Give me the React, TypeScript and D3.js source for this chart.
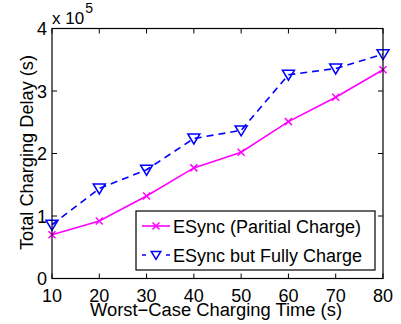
import React from "react";
import * as d3 from "d3";

const width = 401;
const height = 324;
const margin = { top: 28.5, right: 18, bottom: 45.5, left: 52 };

const chargingTime = [10, 20, 30, 40, 50, 60, 70, 80];
const partialCharge = [0.7, 0.92, 1.32, 1.77, 2.02, 2.51, 2.9, 3.34];
const fullCharge = [0.86, 1.44, 1.74, 2.24, 2.37, 3.26, 3.36, 3.59];
const xTicks = [10, 20, 30, 40, 50, 60, 70, 80];
const yTicks = [0, 1, 2, 3, 4];
const legendLabels = ["ESync (Paritial Charge)", "ESync but Fully Charge"];

const font = "'Liberation Sans', Arial, Helvetica, sans-serif";

export default function App() {
  const x = d3
    .scaleLinear()
    .domain([10, 80])
    .range([margin.left, width - margin.right]);
  const y = d3
    .scaleLinear()
    .domain([0, 4])
    .range([height - margin.bottom, margin.top]);

  const line = d3
    .line<number>()
    .x((_, i) => x(chargingTime[i]))
    .y((d) => y(d));

  const x0 = x.range()[0];
  const x1 = x.range()[1];
  const y0 = y.range()[0];
  const y1 = y.range()[1];
  const tick = 5;

  const cross = (cx: number, cy: number, key: string) => (
    <path
      key={key}
      d={`M${cx - 3.5},${cy - 3.5}L${cx + 3.5},${cy + 3.5}M${cx - 3.5},${cy + 3.5}L${cx + 3.5},${cy - 3.5}`}
      stroke="#ff00ff"
      strokeWidth={1.5}
    />
  );
  const tri = (cx: number, cy: number, key: string, s = 1) => (
    <path
      key={key}
      d={`M${cx - 6 * s},${cy - 4.5 * s}L${cx + 6 * s},${cy - 4.5 * s}L${cx},${cy + 5.5 * s}Z`}
      stroke="#0000ff"
      strokeWidth={1.5}
      fill="none"
    />
  );

  // legend box
  const lg = { left: 136, top: 211, right: 375, bottom: 270 };
  const row1 = 226;
  const row2 = 255;

  return (
    <svg width={width} height={height} style={{ position: "absolute", left: 0, top: 0 }}>
      <rect width={width} height={height} fill="#fff" />
      {/* data lines */}
      <path d={line(partialCharge) ?? ""} fill="none" stroke="#ff00ff" strokeWidth={1.6} />
      <path
        d={line(fullCharge) ?? ""}
        fill="none"
        stroke="#0000ff"
        strokeWidth={1.6}
        strokeDasharray="7,5"
      />
      {partialCharge.map((v, i) => cross(x(chargingTime[i]), y(v), "p" + i))}
      {fullCharge.map((v, i) => tri(x(chargingTime[i]), y(v), "f" + i))}

      {/* axes box */}
      <rect x={x0} y={y1} width={x1 - x0} height={y0 - y1} fill="none" stroke="#000" strokeWidth={1.2} />
      {xTicks.map((t) => (
        <g key={"xt" + t}>
          <line x1={x(t)} x2={x(t)} y1={y0} y2={y0 - tick} stroke="#000" />
          <line x1={x(t)} x2={x(t)} y1={y1} y2={y1 + tick} stroke="#000" />
          <text x={x(t)} y={302} textAnchor="middle" fontFamily={font} fontSize={18}>
            {t}
          </text>
        </g>
      ))}
      {yTicks.map((t) => (
        <g key={"yt" + t}>
          <line x1={x0} x2={x0 + tick} y1={y(t)} y2={y(t)} stroke="#000" />
          <line x1={x1} x2={x1 - tick} y1={y(t)} y2={y(t)} stroke="#000" />
          <text x={x0 - 5} y={y(t) + 6.5} textAnchor="end" fontFamily={font} fontSize={18}>
            {t}
          </text>
        </g>
      ))}
      <text x={x0} y={24} fontFamily={font} fontSize={17}>
        x 10
        <tspan dx={1} dy={-11} fontSize={14}>
          5
        </tspan>
      </text>
      <text
        x={90}
        y={316}
        fontFamily={font}
        fontSize={18}
        textLength={252}
        lengthAdjust="spacingAndGlyphs"
      >
        Worst−Case Charging Time (s)
      </text>
      <text
        transform={`translate(33, 250) rotate(-90)`}
        fontFamily={font}
        fontSize={18}
        textLength={195}
        lengthAdjust="spacingAndGlyphs"
      >
        Total Charging Delay (s)
      </text>

      {/* legend */}
      <rect
        x={lg.left}
        y={lg.top}
        width={lg.right - lg.left}
        height={lg.bottom - lg.top}
        fill="#fff"
        stroke="#000"
        strokeWidth={1.2}
      />
      <line x1={142} x2={170} y1={row1} y2={row1} stroke="#ff00ff" strokeWidth={1.6} />
      {cross(156, row1, "lc")}
      <line x1={142} x2={170} y1={row2} y2={row2} stroke="#0000ff" strokeWidth={1.6} strokeDasharray="4,4" />
      <line x1={150} x2={162} y1={row2} y2={row2} stroke="#fff" strokeWidth={3} />
      {tri(156, row2, "lt", 0.8)}
      <text x={173} y={row1 + 6.5} fontFamily={font} fontSize={18}>
        {legendLabels[0]}
      </text>
      <text x={173} y={row2 + 6.5} fontFamily={font} fontSize={18}>
        {legendLabels[1]}
      </text>
    </svg>
  );
}
